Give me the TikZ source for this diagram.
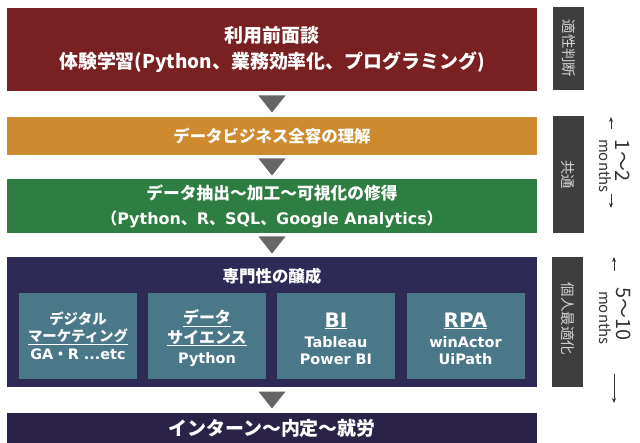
\documentclass[tikz,border=0pt]{standalone}
\usepackage{fontspec}
\setmainfont{Noto Sans CJK JP}
\newfontfamily\vd{DejaVu Sans}
\usetikzlibrary{calc,arrows.meta}
\definecolor{cMaroon}{HTML}{782022}
\definecolor{cOrange}{HTML}{CF8A2F}
\definecolor{cGreen}{HTML}{2E7D42}
\definecolor{cNavy}{HTML}{2D2A55}
\definecolor{cFinal}{HTML}{2A2347}
\definecolor{cTeal}{HTML}{4B7888}
\definecolor{cLabel}{HTML}{3E3E3E}
\definecolor{cTri}{HTML}{666666}
\definecolor{cLabText}{HTML}{D4D4D4}
\definecolor{cMonth}{HTML}{333333}
\newcommand{\fs}[2]{\fontsize{#1}{#2}\selectfont}
\begin{document}
\begin{tikzpicture}[x=1bp,y=-1bp,
  mainbox/.style={inner sep=0pt, minimum width=530bp, text=white, align=center},
  innerbox/.style={inner sep=0pt, minimum width=118bp, minimum height=86bp, fill=cTeal},
  intext/.style={inner sep=0pt, anchor=base, text=white, font=\bfseries},
  sidebox/.style={inner sep=0pt, minimum width=31bp, fill=cLabel},
  sidetext/.style={inner sep=0pt, rotate=-90, text=cLabText, font=\fs{14.5}{16}},
  monthtext/.style={inner sep=0pt, rotate=-90, text=cMonth},
  tri/.style={fill=cTri},
  marr/.style={draw=cMonth, line width=0.8bp, -{Stealth[length=5bp,width=4bp]}}
]
\useasboundingbox (0,0) rectangle (640,443);
\fill[white] (0,0) rectangle (640,443);

% main boxes
\node[mainbox, fill=cMaroon, minimum height=83bp, font=\bfseries\fs{19}{27}] (b1) at (272,49.5)
  {利用前面談\\体験学習(Python、業務効率化、プログラミング)};
\node[mainbox, fill=cOrange, minimum height=38bp, font=\bfseries\fs{16.5}{20}] (b2) at (272,136)
  {データビジネス全容の理解};
\node[mainbox, fill=cGreen, minimum height=54bp, font=\bfseries\fs{16.8}{25}] (b3) at (272,206)
  {データ抽出～加工～可視化の修得\\{\fs{16}{25}（{\vd Python}、{\vd R}、{\vd SQL}、{\vd Google Analytics}）}};
\node[mainbox, fill=cNavy, minimum height=130bp] (b4) at (272,322) {};
\node[inner sep=0pt, text=white, font=\bfseries\fs{16.5}{20}] (t4) at (272,276) {専門性の醸成};
\node[mainbox, fill=cFinal, minimum height=30bp, font=\bfseries\fs{19}{22}] (b5) at (272,428)
  {インターン～内定～就労};

% inner boxes
\node[innerbox] (iA) at (78,336) {};
\node[innerbox] (iB) at (207,336) {};
\node[innerbox] (iC) at (336,336) {};
\node[innerbox] (iD) at (465.5,336) {};

\node[intext, font=\bfseries\fs{14.5}{16}] (a1) at (78,324.5) {デジタル};
\node[intext, font=\bfseries\fs{14.5}{16}] (a2) at (78,341) {\underline{マーケティング}};
\node[intext, font=\bfseries\fs{14.5}{16}] (a3) at (78,359.5) {{\vd GA}・{\vd R ...etc}};

\node[intext, font=\bfseries\fs{16}{18}] (bb1) at (207,323) {\underline{データ}};
\node[intext, font=\bfseries\fs{16}{18}] (bb2) at (207,343) {\underline{サイエンス}};
\node[intext, font=\bfseries\vd\fs{14.5}{16}] (bb3) at (207,363) {Python};

\node[intext, font=\bfseries\vd\fs{20}{22}] (c1) at (336,327) {\underline{BI}};
\node[intext, font=\bfseries\vd\fs{14.5}{16}] (c2) at (336,347) {Tableau};
\node[intext, font=\bfseries\vd\fs{14.5}{16}] (c3) at (336,364) {Power BI};

\node[intext, font=\bfseries\vd\fs{20}{22}] (d1) at (465.5,327) {\underline{RPA}};
\node[intext, font=\bfseries\vd\fs{14.5}{16}] (d2) at (465.5,347) {winActor};
\node[intext, font=\bfseries\vd\fs{14.5}{16}] (d3) at (465.5,364) {UiPath};

% triangles between boxes
\foreach \u/\l in {b1/b2, b2/b3, b3/b4, b4/b5} {
  \coordinate (m) at ($(\u.south)!0.5!(\l.north)$);
  \fill[tri] ($(m)+(-13.5,-8.5)$) -- ($(m)+(13.5,-8.5)$) -- ($(m)+(0,8.5)$) -- cycle;
}

% side labels
\node[sidebox, minimum height=83bp] (s1) at (568.5,48.5) {};
\node[sidetext] (s1t) at (s1) {適性判断};
\node[sidebox, minimum height=117bp] (s2) at (568,174.5) {};
\node[sidetext] (s2t) at (s2) {共通};
\node[sidebox, minimum height=130bp] (s3) at (567.5,322) {};
\node[sidetext] (s3t) at (567.5,319) {個人最適化};

% months
\node[monthtext, font=\fs{20}{22}] (m1a) at (623,161) {1～2};
\node[monthtext, font=\fs{15}{17}] (m1b) at (605,166) {months};
\node[monthtext, font=\fs{20}{22}] (m2a) at (624,314) {5～10};
\node[monthtext, font=\fs{15}{17}] (m2b) at (605,318) {months};

\coordinate (a1t) at (611,129);
\coordinate (a1h) at (611,117);
\coordinate (a2t) at (611,194);
\coordinate (a2h) at (611,208);
\coordinate (a3t) at (614,271);
\coordinate (a3h) at (614,257);
\coordinate (a4t) at (614,374);
\coordinate (a4h) at (614,403);
\draw[marr] (a1t) -- (a1h);
\draw[marr] (a2t) -- (a2h);
\draw[marr] (a3t) -- (a3h);
\draw[marr] (a4t) -- (a4h);
\end{tikzpicture}
\end{document}
